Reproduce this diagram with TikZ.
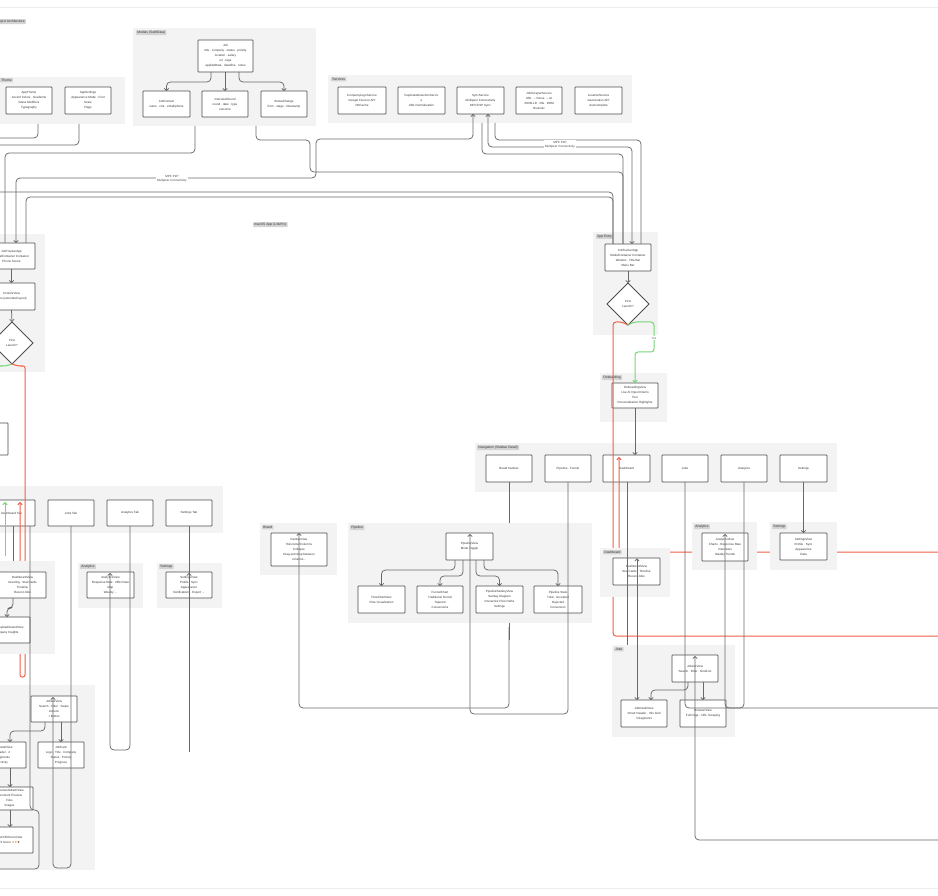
\documentclass[tikz,border=0pt]{standalone}
\usepackage{fontspec}
\setmainfont{Liberation Sans}
\newfontfamily\symf{DejaVu Sans}
\usetikzlibrary{arrows.meta,shapes.geometric}
\definecolor{lnc}{RGB}{105,105,105}
\definecolor{bdc}{RGB}{78,78,78}
\definecolor{gbg}{RGB}{243,243,243}
\definecolor{tagc}{RGB}{212,212,212}
\definecolor{redl}{RGB}{240,96,72}
\definecolor{grnl}{RGB}{120,214,120}
\tikzset{
 bx/.style={draw=bdc,fill=white,line width=0.75pt,rounded corners=0.6pt,align=center,inner sep=0.5pt,outer sep=0pt,font=\fontsize{3}{5}\selectfont,text=black!80},
 dia/.style={diamond,draw=bdc,fill=white,line width=0.75pt,minimum width=42pt,minimum height=42pt,inner sep=0pt,outer sep=0pt,align=center,font=\fontsize{3}{5}\selectfont,text=black!80},
 gp/.style={fill=gbg,draw=none,inner sep=0pt,outer sep=0pt},
 tagn/.style={fill=tagc,inner xsep=1.2pt,inner ysep=0.9pt,font=\fontsize{3.3}{3.8}\selectfont,text=black!80,anchor=north west,rounded corners=0.4pt},
 cn/.style={draw=lnc,line width=0.75pt,rounded corners=4pt},
 rc/.style={draw=redl,line width=1pt,rounded corners=3pt},
 gc/.style={draw=grnl,line width=1pt,rounded corners=3pt},
 arrowe/.style={-{Straight Barb[length=2.1pt,width=4.4pt]}},
 arrowb/.style={{Straight Barb[length=2.1pt,width=4.4pt]}-{Straight Barb[length=2.1pt,width=4.4pt]}},
 lbl/.style={fill=white,inner sep=1.3pt,align=center,font=\fontsize{3}{4}\selectfont,text=black!75},
}
\newcommand\bx[6]{\node[bx,minimum width={(#4)-(#2)},minimum height={(#5)-(#3)}] (#1) at ({((#2)+(#4))/2},{((#3)+(#5))/2}) {#6};}
\newcommand\gpr[5]{\node[gp,minimum width={(#4)-(#2)},minimum height={(#5)-(#3)}] (#1) at ({((#2)+(#4))/2},{((#3)+(#5))/2}) {};}
\begin{document}
\begin{tikzpicture}[x=1pt,y=-1pt]
\useasboundingbox (0,0) rectangle (938,896);
\clip (0,0) rectangle (938,896);
\fill[white] (0,0) rectangle (938,896);
\draw[black!7,line width=0.6pt] (0,7) -- (938,7);
\draw[black!7,line width=0.6pt] (0,888) -- (938,888);

% ---------- top groups ----------
\gpr{gtheme}{-5}{77}{125}{124}
\gpr{gmodels}{133}{28}{316}{126}
\gpr{gsvc}{328}{75}{632}{123}
\gpr{gappm}{593}{232}{658}{335}
\gpr{gonb}{600}{373}{667}{422}
\gpr{gnav}{475}{443}{837}{492}
\gpr{gappi}{-10}{234}{45}{372}
\gpr{gtabs}{-10}{486}{223}{533}
\node[tagn,anchor=north east] at (26,19) {Project Architecture};
\node[tagn] at (0,78) {Theme};
\node[tagn] at (136,30) {Models (SwiftData)};
\node[tagn] at (331,77) {Services};
\node[tagn] at (596,234) {App Entry};
\node[tagn] at (602,375) {Onboarding};
\node[tagn] at (477,445) {Navigation (Sidebar Detail)};
\node[tagn] at (253,222) {macOS App (LinkPro)};

% ---------- top connectors ----------
\draw[cn] (38,124) |- (-5,138);
\draw[cn] (79,124) |- (-5,145);
\draw[cn,arrowe] (211,72) |- (166.5,82) -- (166.5,91);
\draw[cn,arrowe] (225,72) -- (225,91);
\draw[cn,arrowe] (239,72) |- (284,82) -- (284,91);
\draw[cn] (195,126) |- (5,153) -- (5,243);
\draw[cn] (256,126) |- (310,140) |- (623,172) -- (623,244);
\draw[cn,arrowb] (16,243) |- (316,178) |- (473,139) -- (473,114);
\draw[cn] (-5,192) -| (613,244);
\draw[cn] (26,243) |- (613,197) -- (613,244);
\draw[cn] (495,123) |- (641,140) -- (641,244);
\draw[cn,arrowb] (488,114) |- (632,147) -- (632,244);
\draw[cn] (482,123) |- (623,154) -- (623,244);
\node[lbl] at (172,179) {MPC P2P\\Multipeer Connectivity};
\node[lbl] at (560,145) {MPC P2P\\Multipeer Connectivity};

% ---------- top boxes ----------
\bx{theme1}{6}{87}{52}{114}{AppTheme\\Accent Colors · Gradients\\Glass Modifiers\\Typography}
\bx{theme2}{65}{87}{111}{114}{AppSettings\\Appearance Mode · Font\\Scale\\Flags}
\bx{job}{198}{40}{253}{72}{Job\\title · company · status · priority\\location · salary\\url · tags\\appliedDate · deadline · notes}
\bx{jcon}{143}{91}{190}{117}{JobContact\\name · role · email/phone}
\bx{jint}{202}{91}{248}{117}{InterviewRound\\round · date · type\\outcome}
\bx{jstat}{261}{91}{307}{117}{StatusChange\\from · stage · timestamp}
\bx{s1}{338}{87}{386}{114}{CompanyLogoService\\Google Favicon API\\NSCache}
\bx{s2}{398}{87}{445}{114}{DuplicateDetectionServic\\e\\URL Normalization}
\bx{sync}{457}{87}{504}{114}{SyncService\\Multipeer Connectivity\\MPC/P2P Sync}
\bx{s4}{516}{87}{562}{114}{JobScraperService\\URL → Parse → AI\\JSON-LD · OG · DOM\\Heuristic}
\bx{s5}{575}{87}{622}{114}{LocationService\\Geolocation API\\Autocomplete}
\bx{mapp}{605}{244}{651}{271}{JobTrackerApp\\ModelContainer Container\\Window · Title Bar\\Menu Bar}
\node[dia] (mdiam) at (628,304) {First\\Launch?};
\bx{mon}{612}{383}{658}{408}{OnboardingView\\Live AI Import Demo\\Tour\\Personalization Highlights}
\bx{nboard}{486}{455}{532}{482}{Board Kanban}
\bx{npipe}{545}{455}{591}{482}{Pipeline · Funnel}
\bx{ndash}{603}{455}{650}{482}{Dashboard}
\bx{njobs}{662}{455}{708}{482}{Jobs}
\bx{nana}{721}{455}{767}{482}{Analytics}
\bx{nset}{780}{455}{827}{482}{Settings}
\bx{iapp}{-12}{243}{35}{269}{JobTrackerApp\\ModelContainer Container\\Phone Scene}
\bx{icont}{-12}{283}{35}{310}{ContentView\\Tabs (extended layout)}
\node[dia] (idiam) at (12,343) {First\\Launch?};
\bx{ionb}{-40}{423}{8}{455}{OnboardingView\\Tour\\Sample Data}
\bx{itd}{-12}{500}{35}{526}{Dashboard Tab}
\bx{itj}{48}{500}{94}{526}{Jobs Tab}
\bx{ita}{107}{500}{153}{526}{Analytics Tab}
\bx{its}{166}{500}{212}{526}{Settings Tab}
\draw[cn,arrowe] (mapp.south) -- (mdiam.north);
\draw[cn,arrowe] (mon.south) -- (mon.south |- ndash.north);
\draw[cn,arrowe] (iapp.south) -- (icont.north);
\draw[cn,arrowe] (icont.south) -- (idiam.north);

% ---------- red / green and partly hidden lines ----------
\draw[gc,arrowe] (mdiam.south) -- (634,322) -- (654,322) -- (654,352) -- (635,352) -- (mon.north);
\node[lbl,text=black!60] at (654,338) {Yes};
\draw[rc] (mdiam.south) -- (622,322) -- (613,322) -- (613,636) -- (945,636);
\draw[rc,arrowe] (945,552) -- (619,552) -- (619,457);
\draw[gc] (idiam.south) -- (6,366) -- (-5,366);
\draw[rc,arrowe,rounded corners=2pt] (idiam.south) -- (18,366) -- (25,366) -- (25,677) -- (20,677) -- (20,502);
\draw[gc,arrowe] (5,556) -- (5,502);
\draw[cn] (13,526) -- (13,562);
\draw[cn] (509,482) -- (509,640);

% ---------- lower groups ----------
\gpr{gidash}{-10}{561}{55}{654}
\gpr{giana}{78}{563}{143}{608}
\gpr{giset}{157}{563}{222}{608}
\gpr{gijobs}{-10}{685}{95}{870}
\gpr{gmdash}{600}{548}{670}{597}
\gpr{gmana}{692}{522}{757}{570}
\gpr{gmset}{770}{522}{837}{570}
\gpr{gboard}{260}{523}{337}{575}
\gpr{gpipe}{348}{523}{592}{623}
\gpr{gmjobs}{612}{645}{735}{737}
\node[tagn] at (80,564) {Analytics};
\node[tagn] at (159,564) {Settings};
\node[tagn] at (603,550) {Dashboard};
\node[tagn] at (694,524) {Analytics};
\node[tagn] at (772,524) {Settings};
\node[tagn] at (262,525) {Board};
\node[tagn] at (350,525) {Pipeline};
\node[tagn] at (614,647) {Jobs};

% ---------- lower connectors ----------
\draw[cn,arrowe] (455,560) |- (381.5,570) -- (381.5,586);
\draw[cn,arrowe] (463,560) |- (440,576) -- (440,586);
\draw[cn,arrowe] (476,560) |- (499.5,576) -- (499.5,586);
\draw[cn,arrowe] (484,560) |- (558,570) -- (558,586);
\draw[cn,arrowe] (688,682) |- (651,690) -- (651,700);
\draw[cn,arrowe] (703,682) -- (703,700);
\draw[cn,arrowe] (45,722) |- (10,731) -- (10,742);
\draw[cn,arrowe] (61,722) -- (61,742);
\draw[cn,arrowe] (10,768) -- (10,787);
\draw[cn,arrowe] (10,810) -- (10,827);
\draw[cn,arrowe] (13,598) |- (7,608) -- (7,617);
\draw[cn,arrowe] (803.5,482) -- (803.5,533);

% ---------- lower boxes ----------
\bx{mdv}{613}{558}{660}{585}{DashboardView\\Stat Cards · Timeline\\Recent Jobs}
\bx{mav}{702}{533}{748}{561}{AnalyticsView\\Charts · Response Rate\\Interviews\\Weekly Trends}
\bx{msv}{780}{533}{827}{560}{SettingsView\\Profile · Sync\\Appearance\\Data}
\bx{kanban}{271}{533}{327}{566}{KanbanView\\Horizontal Columns\\Collapse\\Drag and drop between\\columns...}
\bx{pview}{446}{533}{493}{560}{PipelineView\\Mode Toggle}
\bx{p1}{358}{586}{405}{613}{FlowChartView\\Flow Visualization}
\bx{p2}{417}{586}{463}{613}{FunnelChart\\Traditional Funnel\\Tapered\\Conversions}
\bx{p3}{476}{586}{523}{613}{PipelineSankeyView\\Sankey Diagram\\Interactive Flow Paths\\Settings}
\bx{p4}{534}{586}{582}{613}{Pipeline Stats\\Total · Accepted\\Rejected\\Conversion}
\bx{mjl}{672}{655}{718}{682}{JobListView\\Search · Filter · Grid/List}
\bx{mjd}{621}{700}{667}{727}{JobDetailView\\Smart Header · Info Grid\\3 Segments}
\bx{mweb}{680}{700}{726}{727}{BrowserView\\Full Page · URL Scraping}
\bx{idv}{-1}{572}{46}{598}{DashboardView\\Greeting · Stat Cards\\Timeline\\Recent Jobs}
\bx{ici}{-17}{617}{30}{643}{CompanyDashboardView\\Company Insights}
\bx{iav}{87}{572}{134}{598}{AnalyticsView\\Response Rate · Offer Rate\\Map\\Weekly ...}
\bx{isv}{166}{572}{212}{598}{SettingsView\\Profile · Sync\\Appearance\\Notifications · Export ...}
\bx{ijl}{31}{696}{77}{722}{JobListView\\Search · Filter · Swipe\\Actions\\+ Button}
\bx{ijd}{-20}{742}{26}{768}{JobDetailView\\Header · 4\\Segments\\Activity}
\bx{ijc}{38}{742}{84}{768}{JobCard\\Logo · Title · Company\\Status · Priority\\Progress}
\bx{ija}{-14}{787}{33}{810}{DocumentAttachView\\Document Preview\\Files\\Images}
\bx{ijf}{-14}{827}{33}{853}{MatchFitScoreView\\Fit Score {\symf\color{orange}★★}{\symf★}}

% ---------- lines passing over boxes ----------
\draw[cn,arrowe] (509,627) -- (509,708) -- (299,708) -- (kanban.north);
\draw[cn,arrowe] (568,482) -- (568,714) -- (470,714) -- (470,534);
\draw[cn] (627,482) -- (627,645);
\draw[cn,arrowb] (637,558.5) -- (637,700);
\draw[cn] (685,482) -- (685,708) -- (945,708);
\draw[cn,arrowe] (744,482) -- (744,708) -- (725,708) -- (725,534);
\draw[cn,arrowe] (945,840) -- (695,840) -- (695,656);
\draw[cn,arrowe] (71,526) -- (71,868) -- (53,868) -- (53,697);
\draw[cn,arrowe] (130,526) -- (130,750) -- (110,750) -- (110,573);
\draw[cn] (189,526) -- (189,752);
\draw[cn,arrowe] (189,590) -- (189,573);
\draw[cn] (30,526) -- (30,810) -- (39,810) -- (39,869) -- (-5,869);
\end{tikzpicture}
\end{document}
